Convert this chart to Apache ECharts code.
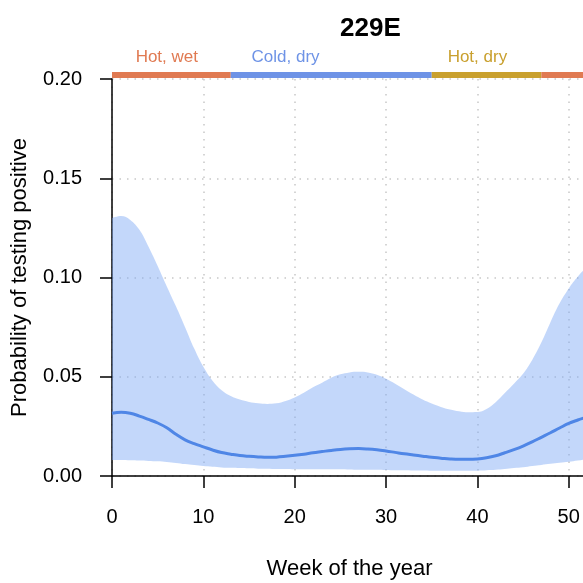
<!DOCTYPE html>
<html>
<head>
<meta charset="utf-8">
<style>
    html, body { margin: 0; padding: 0; background: #fff; }
    #chart { width: 583px; height: 583px; }
</style>
<script src="https://cdn.jsdelivr.net/npm/echarts@6/dist/echarts.min.js"></script>
</head>
<body>
<div id="chart"></div>
<script>
    // week of year 0..52
    var weeks = [0, 1, 2, 3, 4, 5, 6, 7, 8, 9, 10, 11, 12, 13, 14, 15, 16, 17, 18, 19, 20, 21, 22, 23, 24, 25, 26,
        27, 28, 29, 30, 31, 32, 33, 34, 35, 36, 37, 38, 39, 40, 41, 42, 43, 44, 45, 46, 47, 48, 49, 50, 51, 52];
    var meanProb = [0.0316, 0.0321, 0.0316, 0.0302, 0.0285, 0.0267, 0.0243, 0.0210, 0.0182, 0.0163, 0.0147, 0.0131, 0.0118, 0.0110, 0.0103, 0.0099, 0.0096, 0.0094, 0.0095, 0.0099, 0.0104, 0.0110, 0.0117, 0.0123, 0.0129, 0.0134, 0.0137,
        0.0138, 0.0136, 0.0132, 0.0126, 0.0119, 0.0112, 0.0106, 0.0100, 0.0094, 0.0090, 0.0086, 0.0084, 0.0084, 0.0086, 0.0092, 0.0102, 0.0117, 0.0133, 0.0151, 0.0172, 0.0195, 0.0218, 0.0242, 0.0265, 0.0282, 0.0298];
    var lowerProb = [0.0080, 0.0080, 0.0079, 0.0078, 0.0076, 0.0074, 0.0071, 0.0066, 0.0060, 0.0055, 0.0050, 0.0046, 0.0043, 0.0041, 0.0040, 0.0039, 0.0037, 0.0036, 0.0035, 0.0035, 0.0034, 0.0034, 0.0034, 0.0034, 0.0034, 0.0034, 0.0033,
        0.0032, 0.0032, 0.0031, 0.0030, 0.0029, 0.0029, 0.0028, 0.0028, 0.0027, 0.0027, 0.0027, 0.0027, 0.0027, 0.0027, 0.0029, 0.0031, 0.0035, 0.0040, 0.0044, 0.0050, 0.0056, 0.0062, 0.0067, 0.0072, 0.0078, 0.0085];
    var upperProb = [0.1300, 0.1310, 0.1290, 0.1240, 0.1155, 0.1058, 0.0955, 0.0855, 0.0750, 0.0642, 0.0550, 0.0480, 0.0432, 0.0403, 0.0385, 0.0373, 0.0366, 0.0363, 0.0366, 0.0378, 0.0396, 0.0420, 0.0447, 0.0470, 0.0495, 0.0512, 0.0522,
        0.0525, 0.0522, 0.0510, 0.0490, 0.0465, 0.0437, 0.0410, 0.0385, 0.0365, 0.0348, 0.0335, 0.0326, 0.0321, 0.0322, 0.0338, 0.0372, 0.0418, 0.0465, 0.0515, 0.0585, 0.0672, 0.0775, 0.0870, 0.0945, 0.1005, 0.1055];

    // seasons bar above the plot
    var seasonNames = ['Hot, wet', 'Cold, dry', 'Hot, dry', ''];
    var seasonStart = [0, 13, 35, 47];
    var seasonEnd = [13, 35, 47, 52];
    var seasonLabelWeek = [6, 19, 40, 50];
    var seasonColors = ['#E07A52', '#6E93E6', '#C9A02E', '#E07A52'];

    var xTickStep = 10;
    var yTicks = [0, 0.05, 0.10, 0.15, 0.20];

    var font = '"Liberation Sans", Arial, Helvetica, sans-serif';

    var myChart = echarts.init(document.getElementById('chart'));

    var bandWidth = upperProb.map(function (u, i) { return u - lowerProb[i]; });
    var seasonData = seasonNames.map(function (n, i) {
        return [seasonStart[i], seasonEnd[i], seasonLabelWeek[i], i];
    });
    var everyTen = function (index) { return index % xTickStep === 0; };
    var gridLine = { show: true, interval: everyTen, lineStyle: { color: '#c8c8c8', type: [1.5, 6], width: 1.5 } };

    myChart.setOption({
        animation: false,
        title: {
            text: '229E',
            left: 335,
            top: 11,
            textStyle: { fontFamily: font, fontSize: 26, fontWeight: 'bold', color: '#000' }
        },
        grid: {
            left: 112,
            top: 79,
            right: -4,
            bottom: 107,
            containLabel: false,
            outerBoundsMode: 'none'
        },
        xAxis: {
            type: 'category',
            boundaryGap: false,
            data: weeks,
            name: 'Week of the year',
            nameLocation: 'middle',
            nameGap: 82,
            nameTextStyle: { fontFamily: font, fontSize: 22, color: '#000' },
            axisLine: { show: true, onZero: false, lineStyle: { color: '#000', width: 1.5 } },
            axisTick: { show: true, interval: everyTen, length: 12, lineStyle: { color: '#000', width: 1.5 } },
            axisLabel: { interval: everyTen, margin: 31, fontFamily: font, fontSize: 20, color: '#000' },
            splitLine: gridLine
        },
        yAxis: {
            type: 'value',
            min: yTicks[0],
            max: yTicks[yTicks.length - 1],
            interval: 0.05,
            name: 'Probability of testing positive',
            nameLocation: 'middle',
            nameGap: 81,
            nameTextStyle: { fontFamily: font, fontSize: 22, color: '#000' },
            axisLine: { show: true, lineStyle: { color: '#000', width: 1.5 } },
            axisTick: { show: true, length: 12, lineStyle: { color: '#000', width: 1.5 } },
            axisLabel: {
                margin: 30, fontFamily: font, fontSize: 20, color: '#000',
                formatter: function (v) { return v.toFixed(2); }
            },
            splitLine: { show: true, lineStyle: { color: '#c8c8c8', type: [1.5, 6], width: 1.5 } }
        },
        series: [
            {
                name: 'lower',
                type: 'line',
                stack: 'band',
                data: lowerProb,
                smooth: 0.4,
                symbol: 'none',
                lineStyle: { opacity: 0 },
                silent: true
            },
            {
                name: 'band',
                type: 'line',
                stack: 'band',
                data: bandWidth,
                smooth: 0.4,
                symbol: 'none',
                lineStyle: { opacity: 0 },
                areaStyle: { color: 'rgba(122,166,245,0.45)', opacity: 1 },
                silent: true
            },
            {
                name: 'mean',
                type: 'line',
                data: meanProb,
                smooth: 0.4,
                symbol: 'none',
                lineStyle: { color: '#4F86E6', width: 3 },
                z: 5
            },
            {
                name: 'seasons',
                type: 'custom',
                clip: false,
                silent: true,
                data: seasonData,
                encode: { x: [0, 1] },
                renderItem: function (params, api) {
                    var top = yTicks[yTicks.length - 1];
                    var a = api.coord([api.value(0), top]);
                    var b = api.coord([api.value(1), top]);
                    var l = api.coord([api.value(2), top]);
                    var idx = api.value(3);
                    return {
                        type: 'group',
                        children: [
                            {
                                type: 'rect',
                                shape: { x: a[0], y: a[1] - 7, width: b[0] - a[0], height: 6 },
                                style: { fill: seasonColors[idx] }
                            },
                            {
                                type: 'text',
                                style: {
                                    text: seasonNames[idx],
                                    x: l[0],
                                    y: a[1] - 22,
                                    align: 'center',
                                    verticalAlign: 'middle',
                                    fill: seasonColors[idx],
                                    font: '17px ' + font
                                }
                            }
                        ]
                    };
                }
            }
        ]
    });
</script>
</body>
</html>
